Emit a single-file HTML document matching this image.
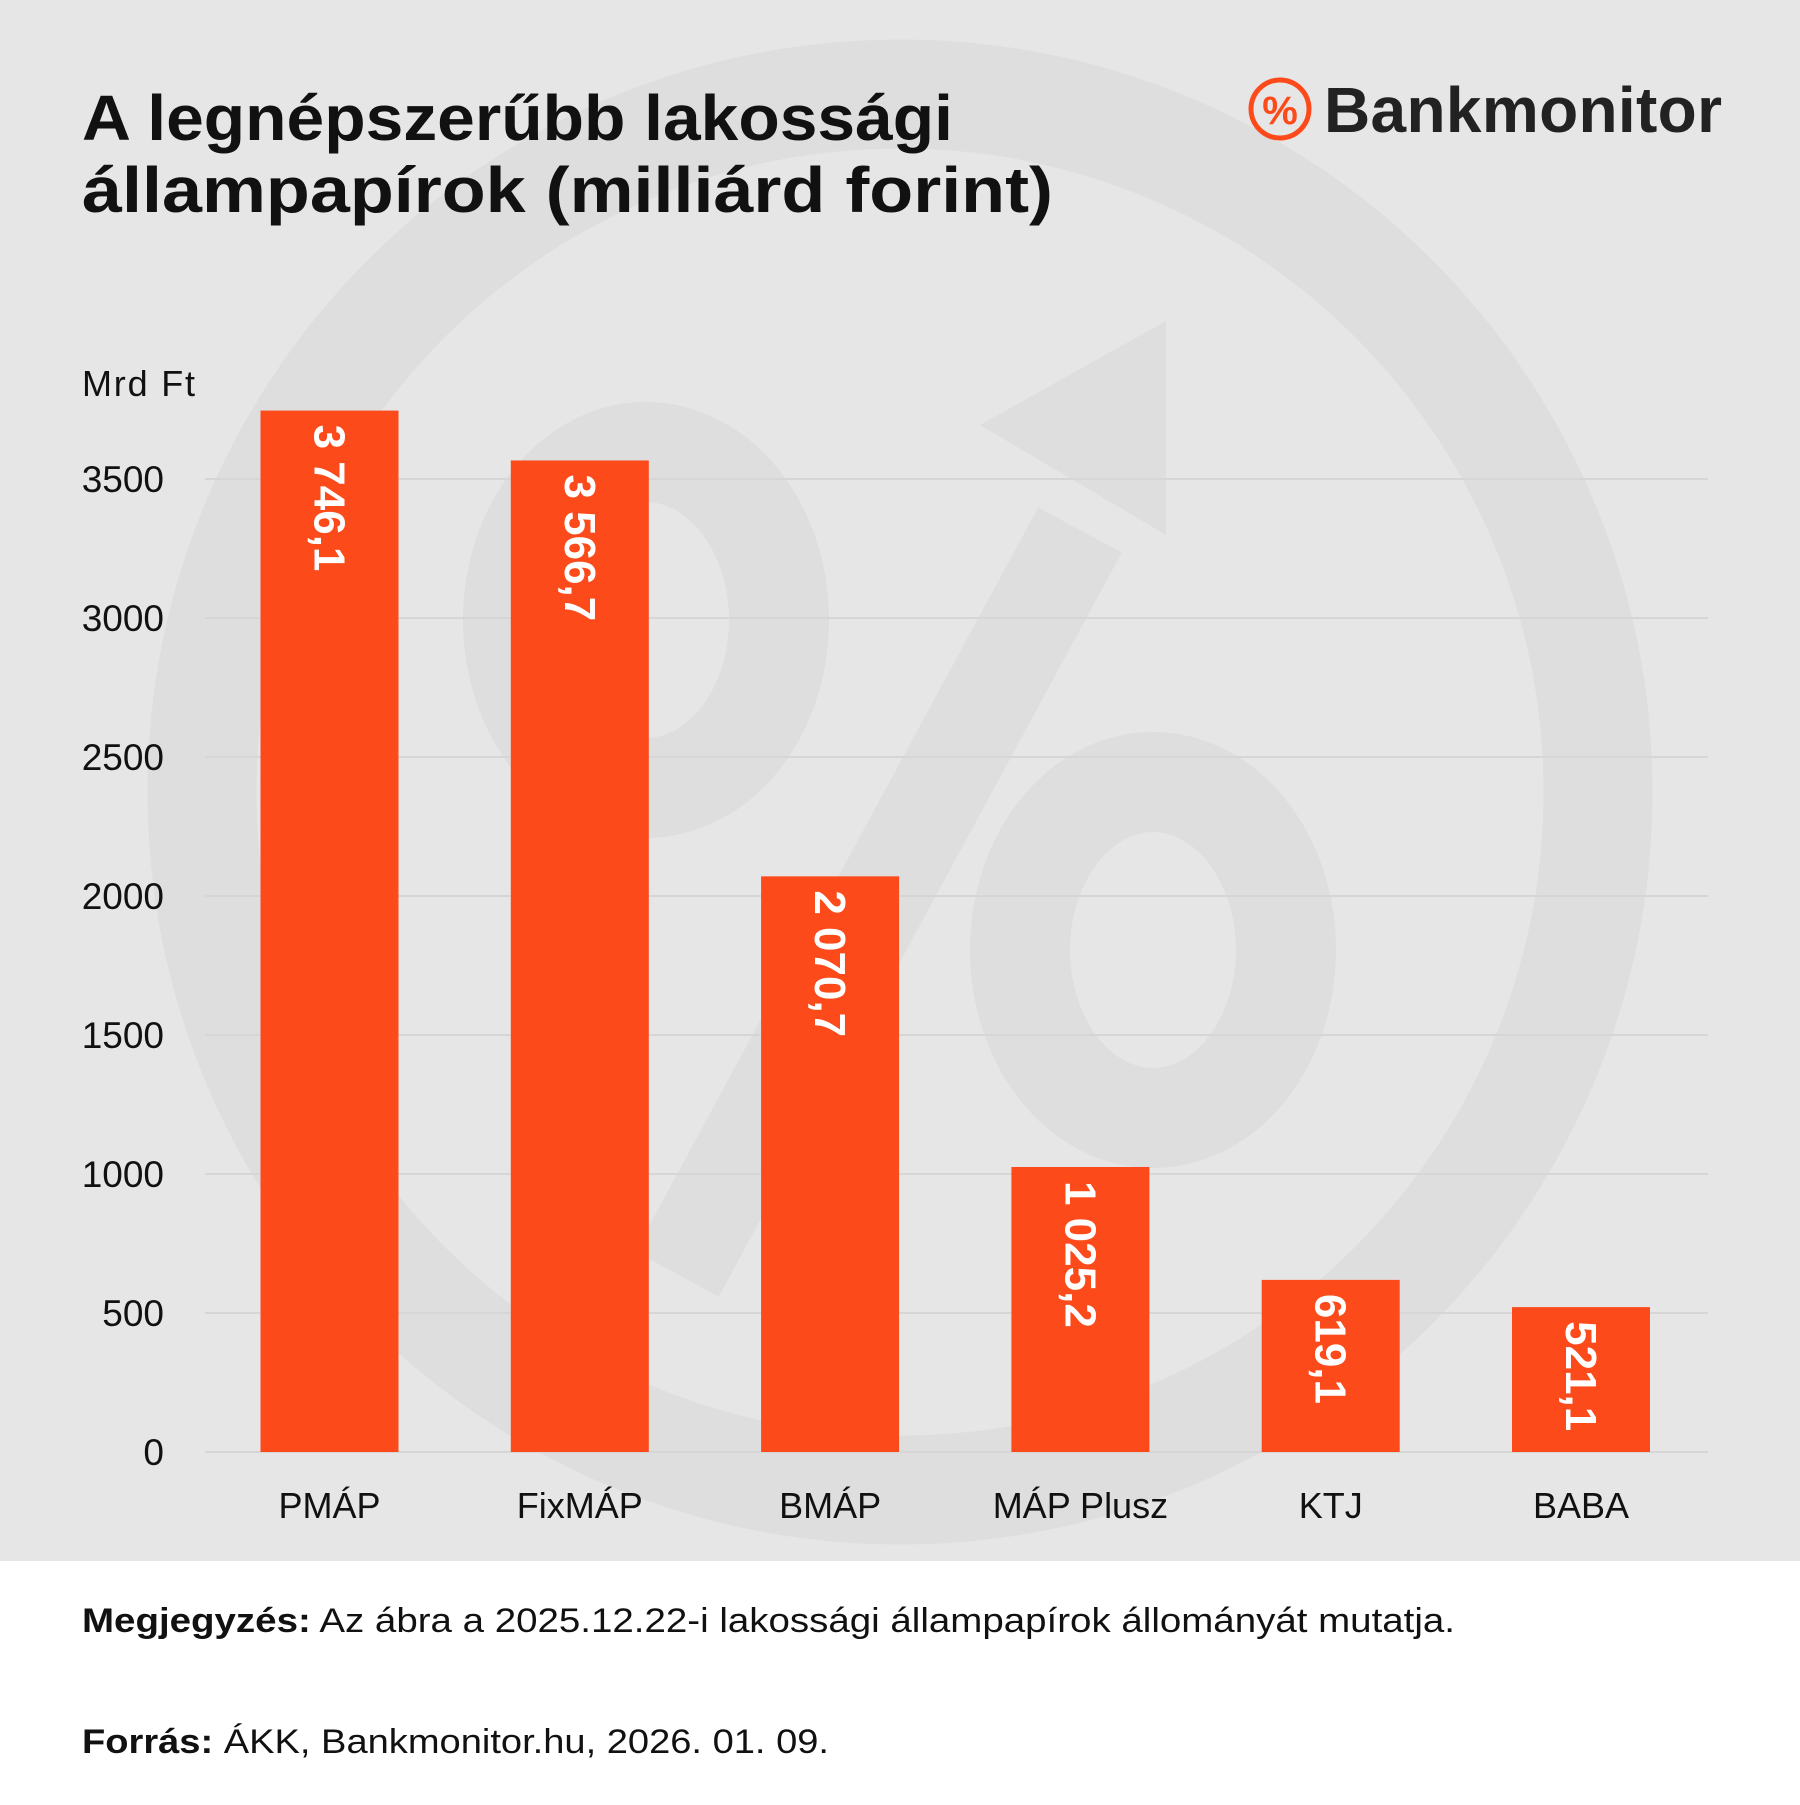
<!DOCTYPE html>
<html><head><meta charset="utf-8"><style>
html,body{margin:0;padding:0;}
body{width:1800px;height:1800px;background:#fff;font-family:"Liberation Sans",sans-serif;overflow:hidden;}
svg text{font-family:"Liberation Sans",sans-serif;}
</style></head><body>
<svg width="1800" height="1800" viewBox="0 0 1800 1800">
<rect x="0" y="0" width="1800" height="1561" fill="#e6e6e6"/>
<g fill="none" stroke="#dedede">
<circle cx="900" cy="792" r="698" stroke-width="109"/>
<ellipse cx="646" cy="620" rx="133" ry="168" stroke-width="100"/>
<ellipse cx="1153" cy="950" rx="133" ry="168" stroke-width="100"/>
<line x1="677" y1="1274" x2="1080" y2="530" stroke-width="95"/>
<polygon points="1166,321 1166,535 980,425" fill="#dedede" stroke="none"/>
</g>
<g font-weight="bold" font-size="64" fill="#111">
<text x="82" y="140" textLength="871" lengthAdjust="spacingAndGlyphs">A legnépszerűbb lakossági</text>
<text x="82" y="212" textLength="971" lengthAdjust="spacingAndGlyphs">állampapírok (milliárd forint)</text>
</g>
<g>
<circle cx="1280" cy="109" r="29" fill="none" stroke="#fc4a1a" stroke-width="5"/>
<text x="1280" y="124" font-size="40" font-weight="bold" fill="#fc4a1a" text-anchor="middle">%</text>
<text x="1324" y="132" font-family="Liberation Serif" font-size="64" font-weight="bold" fill="#222" textLength="398">Bankmonitor</text>
</g>
<text x="82" y="396" font-size="36" fill="#111" textLength="113">Mrd Ft</text>
<g id="grid"></g><g id="bars"></g>
<text x="82" y="1632" font-size="34" fill="#111" textLength="1373" lengthAdjust="spacingAndGlyphs"><tspan font-weight="bold">Megjegyzés:</tspan> Az ábra a 2025.12.22-i lakossági állampapírok állományát mutatja.</text>
<text x="82" y="1753" font-size="34" fill="#111" textLength="747" lengthAdjust="spacingAndGlyphs"><tspan font-weight="bold">Forrás:</tspan> ÁKK, Bankmonitor.hu, 2026. 01. 09.</text>
</svg>
<script>
const categories=["PMÁP","FixMÁP","BMÁP","MÁP Plusz","KTJ","BABA"];
const values=[3746.1,3566.7,2070.7,1025.2,619.1,521.1];
const valueLabels=["3 746,1","3 566,7","2 070,7","1 025,2","619,1","521,1"];
const ticks=[0,500,1000,1500,2000,2500,3000,3500];
const NS="http://www.w3.org/2000/svg";
const y0=1452,pxPer=(1452-479)/3500;
const y=v=>y0-v*pxPer;
const xc=i=>329.5+i*250.3;
const bw=138;
const grid=document.getElementById('grid'),bars=document.getElementById('bars');
function mk(t,a,p){const e=document.createElementNS(NS,t);for(const k in a)e.setAttribute(k,a[k]);p.appendChild(e);return e;}
ticks.forEach(t=>{
 const l=mk('line',{x1:205,x2:1708,y1:y(t),y2:y(t),stroke:'#d6d6d6','stroke-width':2},grid);
 
 
 const tx=mk('text',{x:164,y:y(t)+13,'font-size':37,fill:'#111','text-anchor':'end'},grid);
 tx.textContent=t;
 
 
});
values.forEach((v,i)=>{
 const r=mk('rect',{x:xc(i)-bw/2,y:y(v),width:bw,height:y0-y(v),fill:'#fc4a1a'},bars);
 
 
 const lx=xc(i)-15,ly=y(v)+14;
 const t=mk('text',{x:lx,y:ly,'font-size':44,'font-weight':'bold',fill:'#fff',transform:`rotate(90 ${lx} ${ly})`},bars);
 t.textContent=valueLabels[i];
 
 
 const c=mk('text',{x:xc(i),y:1518,'font-size':36,fill:'#111','text-anchor':'middle'},bars);
 c.textContent=categories[i];
 
 
});
</script>
</body></html>
